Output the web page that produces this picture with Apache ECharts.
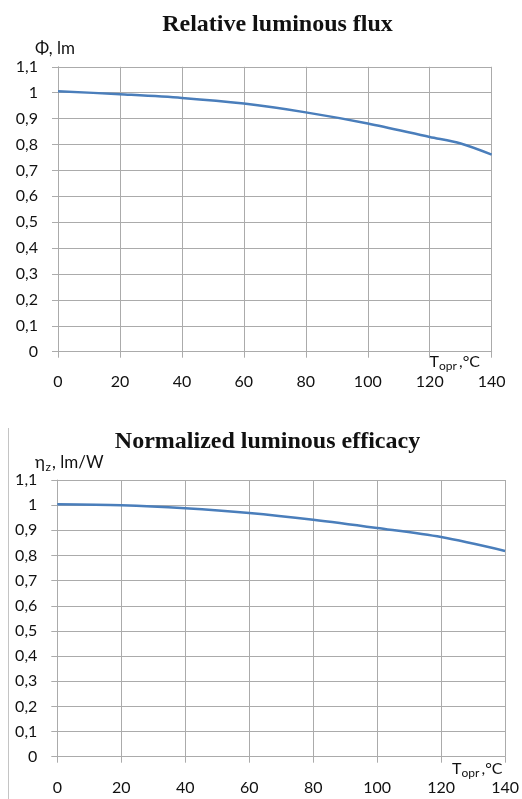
<!DOCTYPE html>
<html>
<head>
<meta charset="utf-8">
<script src="https://cdn.jsdelivr.net/npm/echarts@6/dist/echarts.min.js"></script>
<style>
html,body{margin:0;padding:0;background:#fff;}
#c{width:522px;height:799px;}
</style>
</head>
<body>
<div id="c"></div>
<script>
// ---- data ----
const fluxTemps = [0, 20, 40, 60, 80, 100, 120, 130, 140];
const fluxValues = [1.006, 0.994, 0.98, 0.958, 0.924, 0.881, 0.829, 0.804, 0.761];
const effTemps = [0, 20, 40, 60, 80, 100, 120, 140];
const effValues = [1.004, 1.0, 0.988, 0.969, 0.942, 0.909, 0.873, 0.818];
const xTickLabels = ['0', '20', '40', '60', '80', '100', '120', '140'];
const yTickLabels = ['0', '0,1', '0,2', '0,3', '0,4', '0,5', '0,6', '0,7', '0,8', '0,9', '1', '1,1'];
const titles = ['Relative luminous flux', 'Normalized luminous efficacy'];

const gridColor = '#ababab';
const labelColor = '#111111';
const lineColor = '#4a7ebb';

function xAxisCfg(gi, margin) {
  return {
    type: 'value', gridIndex: gi, min: 0, max: 140, interval: 20,
    axisLine: {show: true, lineStyle: {color: gridColor, width: 1}},
    axisTick: {show: true, inside: false, length: 6, lineStyle: {color: gridColor}},
    splitLine: {show: true, lineStyle: {color: gridColor, width: 1}},
    axisLabel: {
      margin: margin, color: labelColor, fontFamily: 'Lato', fontSize: 16,
      formatter: v => xTickLabels[Math.round(v / 20)]
    }
  };
}
function yAxisCfg(gi) {
  return {
    type: 'value', gridIndex: gi, min: 0, max: 1.1, interval: 0.1,
    axisLine: {show: true, lineStyle: {color: gridColor, width: 1}},
    axisTick: {show: true, inside: false, length: 6, lineStyle: {color: gridColor}},
    splitLine: {show: true, lineStyle: {color: gridColor, width: 1}},
    axisLabel: {
      margin: 20, color: labelColor, fontFamily: 'Lato', fontSize: 16,
      formatter: v => yTickLabels[Math.round(v * 10)]
    }
  };
}

const chart = echarts.init(document.getElementById('c'), null, {renderer: 'canvas'});
const txt = (x, y, text, size, extra) => ({
  type: 'text', x: x, y: y, silent: true,
  style: Object.assign({text: text, fill: labelColor, font: size + 'px Lato', verticalAlign: 'middle', align: 'left'}, extra || {})
});

chart.setOption({
  animation: false,
  backgroundColor: '#ffffff',
  grid: [
    {left: 58, top: 66.8, width: 433.7, height: 284.9, containLabel: false},
    {left: 57.3, top: 480, width: 451.7, height: 276.7, containLabel: false}
  ],
  xAxis: [xAxisCfg(0, 22), xAxisCfg(1, 23)],
  yAxis: [yAxisCfg(0), yAxisCfg(1)],
  series: [
    {
      type: 'line', xAxisIndex: 0, yAxisIndex: 0, smooth: 0.3, showSymbol: false,
      lineStyle: {color: lineColor, width: 2.5},
      data: fluxTemps.map((t, i) => [t, fluxValues[i]])
    },
    {
      type: 'line', xAxisIndex: 1, yAxisIndex: 1, smooth: 0.3, showSymbol: false,
      lineStyle: {color: lineColor, width: 2.5},
      data: effTemps.map((t, i) => [t, effValues[i]])
    }
  ],
  graphic: [
    // titles
    {type: 'text', x: 277.5, y: 25, silent: true,
     style: {text: titles[0], fill: '#111', font: 'bold 24px "Liberation Serif"', align: 'center', verticalAlign: 'middle'}},
    {type: 'text', x: 267.5, y: 442, silent: true,
     style: {text: titles[1], fill: '#111', font: 'bold 24px "Liberation Serif"', align: 'center', verticalAlign: 'middle'}},
    // y axis names
    txt(35, 49, 'Φ, lm', 17),
    txt(35, 463, 'η', 17),
    txt(45.5, 467, 'z', 12),
    txt(52, 463, ', lm/W', 17),
    // x axis names
    txt(429.5, 362, 'T', 16),
    txt(439, 366, 'opr', 12),
    txt(459, 362, ',°C', 16),
    txt(452, 769, 'T', 16),
    txt(461.5, 773, 'opr', 12),
    txt(481.5, 769, ',°C', 16),
    // image frame line
    {type: 'line', silent: true, shape: {x1: 8.5, y1: 428, x2: 8.5, y2: 799},
     style: {stroke: '#c4c4c4', lineWidth: 1}}
  ]
});
</script>
</body>
</html>
